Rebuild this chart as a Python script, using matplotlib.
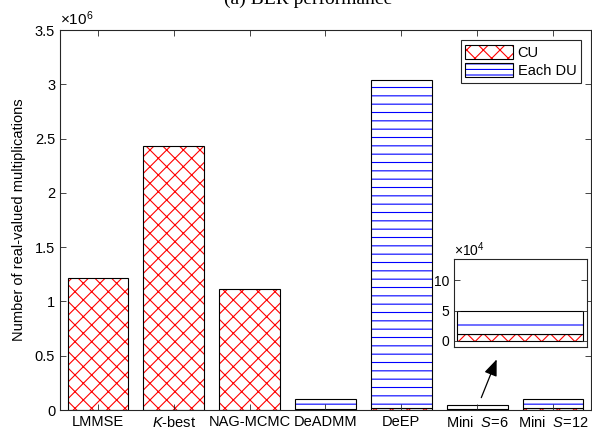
import numpy as np
import matplotlib
matplotlib.use('Agg')
import matplotlib.pyplot as plt
from matplotlib.patches import Patch
from matplotlib.legend_handler import HandlerTuple

plt.rcParams['font.family'] = ['Liberation Sans', 'DejaVu Sans']
plt.rcParams['mathtext.fontset'] = 'custom'
plt.rcParams['mathtext.rm'] = 'Liberation Sans'
plt.rcParams['mathtext.it'] = 'Liberation Sans:italic'
plt.rcParams['hatch.linewidth'] = 0.8

methods = ['LMMSE', '$K$-best', 'NAG-MCMC', 'DeADMM', 'DeEP',
           'Mini  $S$=6', 'Mini  $S$=12']
cu = [1.215e6, 2.43e6, 1.115e6, 0.008e6, 0.022e6, 0.012e6, 0.02e6]
du = [0, 0, 0, 0.093e6, 3.02e6, 0.038e6, 0.082e6]
yticks = [0, 0.5, 1, 1.5, 2, 2.5, 3, 3.5]

inset_idx = 5
inset_ticks = [0, 5, 10]

gray = '#262626'
x = np.arange(1, len(methods) + 1)
cu_m = np.array(cu) / 1e6
du_m = np.array(du) / 1e6


def hbar(ax, xs, h, bottom, hatch, col):
    ax.bar(xs, h, 0.8, bottom=bottom, color='white', edgecolor=col,
           hatch=hatch, linewidth=0)
    ax.bar(xs, h, 0.8, bottom=bottom, fill=False, edgecolor='black',
           linewidth=0.8)


def style(a):
    for s in a.spines.values():
        s.set_color(gray)
        s.set_linewidth(0.8)


fig = plt.figure(figsize=(5.92, 4.32), dpi=100)
ax = fig.add_axes([60 / 592, 1 - 410 / 432, 531 / 592, 380 / 432])

hbar(ax, x, cu_m, 0, 'xx', 'red')
m = du_m > 0
hbar(ax, x[m], du_m[m], cu_m[m], '--', 'blue')

ax.set_xlim(0.5, 7.5)
ax.set_ylim(0, 3.5)
ax.set_yticks(yticks)
ax.set_yticklabels([f'{v:g}' for v in yticks])
ax.set_xticks(x)
ax.set_xticklabels(methods)
ax.text(0.0, 1.004, r'$\times10^{6}$', transform=ax.transAxes,
        ha='left', va='bottom', fontsize=11)
ax.set_ylabel('Number of real-valued multiplications', fontsize=10.5,
              labelpad=6)
ax.tick_params(direction='in', top=True, right=True, length=4,
               labelsize=10.5, color=gray, width=0.6)
style(ax)

h_cu = (Patch(facecolor='white', edgecolor='red', hatch='xx', linewidth=0),
        Patch(fill=False, edgecolor='black', linewidth=0.8))
h_du = (Patch(facecolor='white', edgecolor='blue', hatch='---', linewidth=0),
        Patch(fill=False, edgecolor='black', linewidth=0.8))
leg = ax.legend([h_cu, h_du], ['CU', 'Each DU'],
                handler_map={tuple: HandlerTuple(ndivide=1, pad=0)},
                loc='upper right', fontsize=10.5, fancybox=False,
                edgecolor=gray, framealpha=1, handlelength=3.3,
                handleheight=1.1, borderaxespad=0.7, handletextpad=0.3,
                labelspacing=0.25, borderpad=0.3)
leg.get_frame().set_linewidth(0.8)

# zoomed view of the Mini S=6 bar
axi = fig.add_axes([454 / 592, 1 - 347 / 432, 133 / 592, 88 / 432])
i = inset_idx
hbar(axi, [x[i]], [cu[i] / 1e4], 0, 'xx', 'red')
hbar(axi, [x[i]], [du[i] / 1e4], [cu[i] / 1e4], '-', 'blue')
axi.set_xlim(x[i] - 0.42, x[i] + 0.425)
axi.set_ylim(-1, 13.5)
axi.set_yticks(inset_ticks)
axi.set_yticklabels([f'{v:g}' for v in inset_ticks])
axi.set_xticks([])
axi.text(0.0, 1.004, r'$\times10^{4}$', transform=axi.transAxes,
         ha='left', va='bottom', fontsize=10)
axi.tick_params(direction='in', right=True, length=4, labelsize=10,
                color=gray, width=0.6)
style(axi)

ax.annotate('', xy=(6.27, 0.49), xytext=(6.04, 0.09),
            arrowprops=dict(arrowstyle='-|>,head_length=1.0,head_width=0.4',
                            color='black', lw=0.9))

fig.text(0.52, 1 - 4 / 432, '(a) BER performance', ha='center',
         va='baseline', fontsize=14, family='Liberation Serif')

fig.savefig('out.png', dpi=100)
